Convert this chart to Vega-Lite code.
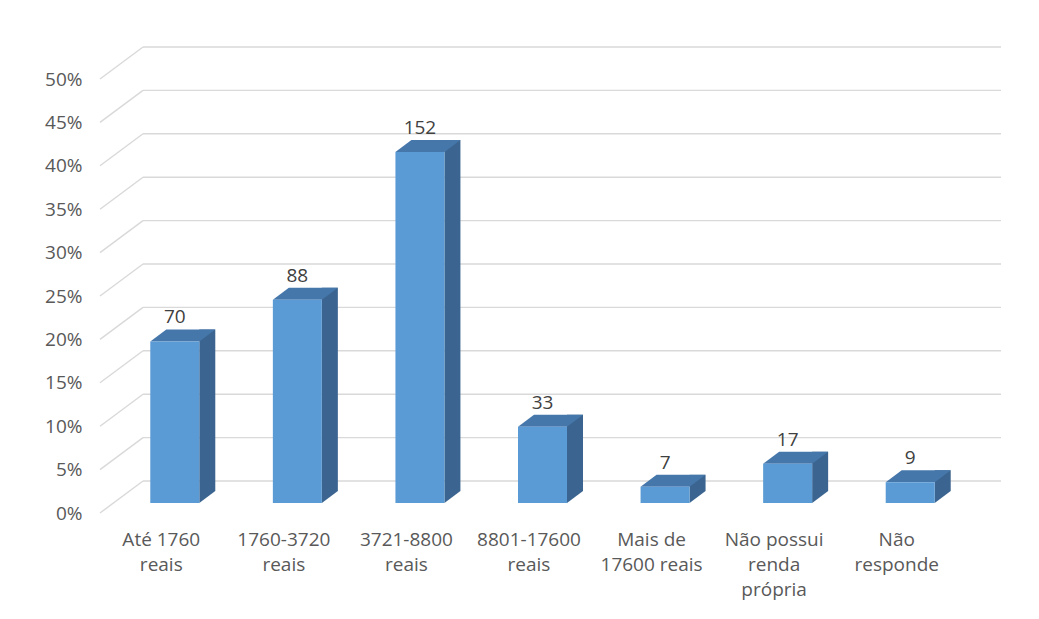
{
  "$schema": "https://vega.github.io/schema/vega-lite/v6.json",
  "autosize": {"type": "none"},
  "width": 858,
  "height": 434,
  "padding": {"left": 143, "top": 47, "right": 38, "bottom": 138},
  "background": "#ffffff",
  "datasets": {
    "renda": [
      {"faixa": "Até 1760\nreais", "respostas": 70},
      {"faixa": "1760-3720\nreais", "respostas": 88},
      {"faixa": "3721-8800\nreais", "respostas": 152},
      {"faixa": "8801-17600\nreais", "respostas": 33},
      {"faixa": "Mais de\n17600 reais", "respostas": 7},
      {"faixa": "Não possui\nrenda\nprópria", "respostas": 17},
      {"faixa": "Não\nresponde", "respostas": 9}
    ],
    "grade": [
      {"nivel": 0}, {"nivel": 18.8}, {"nivel": 37.6}, {"nivel": 56.4},
      {"nivel": 75.2}, {"nivel": 94}, {"nivel": 112.8}, {"nivel": 131.6},
      {"nivel": 150.4}, {"nivel": 169.2}, {"nivel": 188}
    ]
  },
  "layer": [
    {
      "data": {"name": "grade"},
      "mark": {"type": "rule", "color": "#d9d9d9", "strokeWidth": 1.4},
      "encoding": {
        "y": {"field": "nivel", "type": "quantitative",
              "scale": {"domain": [0, 188], "nice": false, "zero": true},
              "axis": {"values": [0, 18.8, 37.6, 56.4, 75.2, 94, 112.8, 131.6, 150.4, 169.2, 188],
                       "labelExpr": "format(datum.value / 376, '.0%')"}}
      }
    },
    {
      "data": {"name": "grade"},
      "mark": {"type": "rule", "color": "#d9d9d9", "strokeWidth": 1.4, "xOffset": -43, "yOffset": 32},
      "encoding": {
        "x": {"datum": "Até 1760\nreais", "bandPosition": 0, "type": "nominal",
              "scale": {"domain": ["Até 1760\nreais", "1760-3720\nreais", "3721-8800\nreais", "8801-17600\nreais", "Mais de\n17600 reais", "Não possui\nrenda\nprópria", "Não\nresponde"], "paddingInner": 0, "paddingOuter": 0}},
        "x2": {"datum": "Até 1760\nreais", "bandPosition": 0},
        "y": {"field": "nivel", "type": "quantitative"},
        "y2": {"field": "nivel"}
      }
    },
    {
      "data": {"name": "renda"},
      "layer": [
        {
          "mark": {"type": "bar", "width": 16, "xOffset": 3, "yOffset": 10, "y2Offset": 10, "color": "#3b6590"},
          "encoding": {
            "x": {"field": "faixa", "type": "nominal", "sort": null},
            "y": {"field": "respostas", "type": "quantitative"}
          }
        },
        {
          "mark": {"type": "point", "shape": "M0,0L0,-12L16,-12Z", "size": 4, "filled": true, "opacity": 1, "strokeWidth": 0, "color": "#3b6590", "xOffset": -5, "yOffset": 22},
          "encoding": {
            "x": {"field": "faixa", "type": "nominal", "sort": null},
            "y": {"datum": 0, "type": "quantitative"}
          }
        },
        {
          "mark": {"type": "point", "shape": "M0,0L-49,0L-33,-12L16,-12Z", "size": 4, "filled": true, "opacity": 1, "strokeWidth": 0, "color": "#4677ab", "xOffset": -5, "yOffset": 22},
          "encoding": {
            "x": {"field": "faixa", "type": "nominal", "sort": null},
            "y": {"field": "respostas", "type": "quantitative"}
          }
        },
        {
          "mark": {"type": "bar", "width": 49, "xOffset": -29.5, "yOffset": 22, "y2Offset": 22, "color": "#5b9bd5"},
          "encoding": {
            "x": {"field": "faixa", "type": "nominal", "sort": null},
            "y": {"field": "respostas", "type": "quantitative"}
          }
        },
        {
          "mark": {"type": "text", "font": "Open Sans", "fontSize": 19, "color": "#404040", "baseline": "alphabetic", "align": "center", "xOffset": -29.5, "yOffset": 4},
          "encoding": {
            "x": {"field": "faixa", "type": "nominal", "sort": null},
            "y": {"field": "respostas", "type": "quantitative"},
            "text": {"field": "respostas", "type": "quantitative"}
          }
        }
      ]
    }
  ],
  "resolve": {"scale": {"x": "shared", "y": "shared"}},
  "config": {
    "view": {"stroke": null},
    "font": "Open Sans",
    "axisX": {
      "title": null,
      "domain": false,
      "ticks": false,
      "tickSize": 0,
      "grid": false,
      "labelAngle": 0,
      "labelFont": "Open Sans",
      "labelFontSize": 19,
      "labelColor": "#595959",
      "labelOffset": -43,
      "labelPadding": 49,
      "labelLineHeight": 25,
      "labelOverlap": false,
      "labelLimit": 0,
      "labelExpr": "split(datum.value, '\\n')"
    },
    "axisY": {
      "title": null,
      "domain": false,
      "ticks": false,
      "tickSize": 0,
      "grid": false,
      "offset": 43,
      "labelPadding": 18,
      "labelOffset": 32,
      "labelFont": "Open Sans",
      "labelFontSize": 19,
      "labelColor": "#595959"
    }
  }
}
